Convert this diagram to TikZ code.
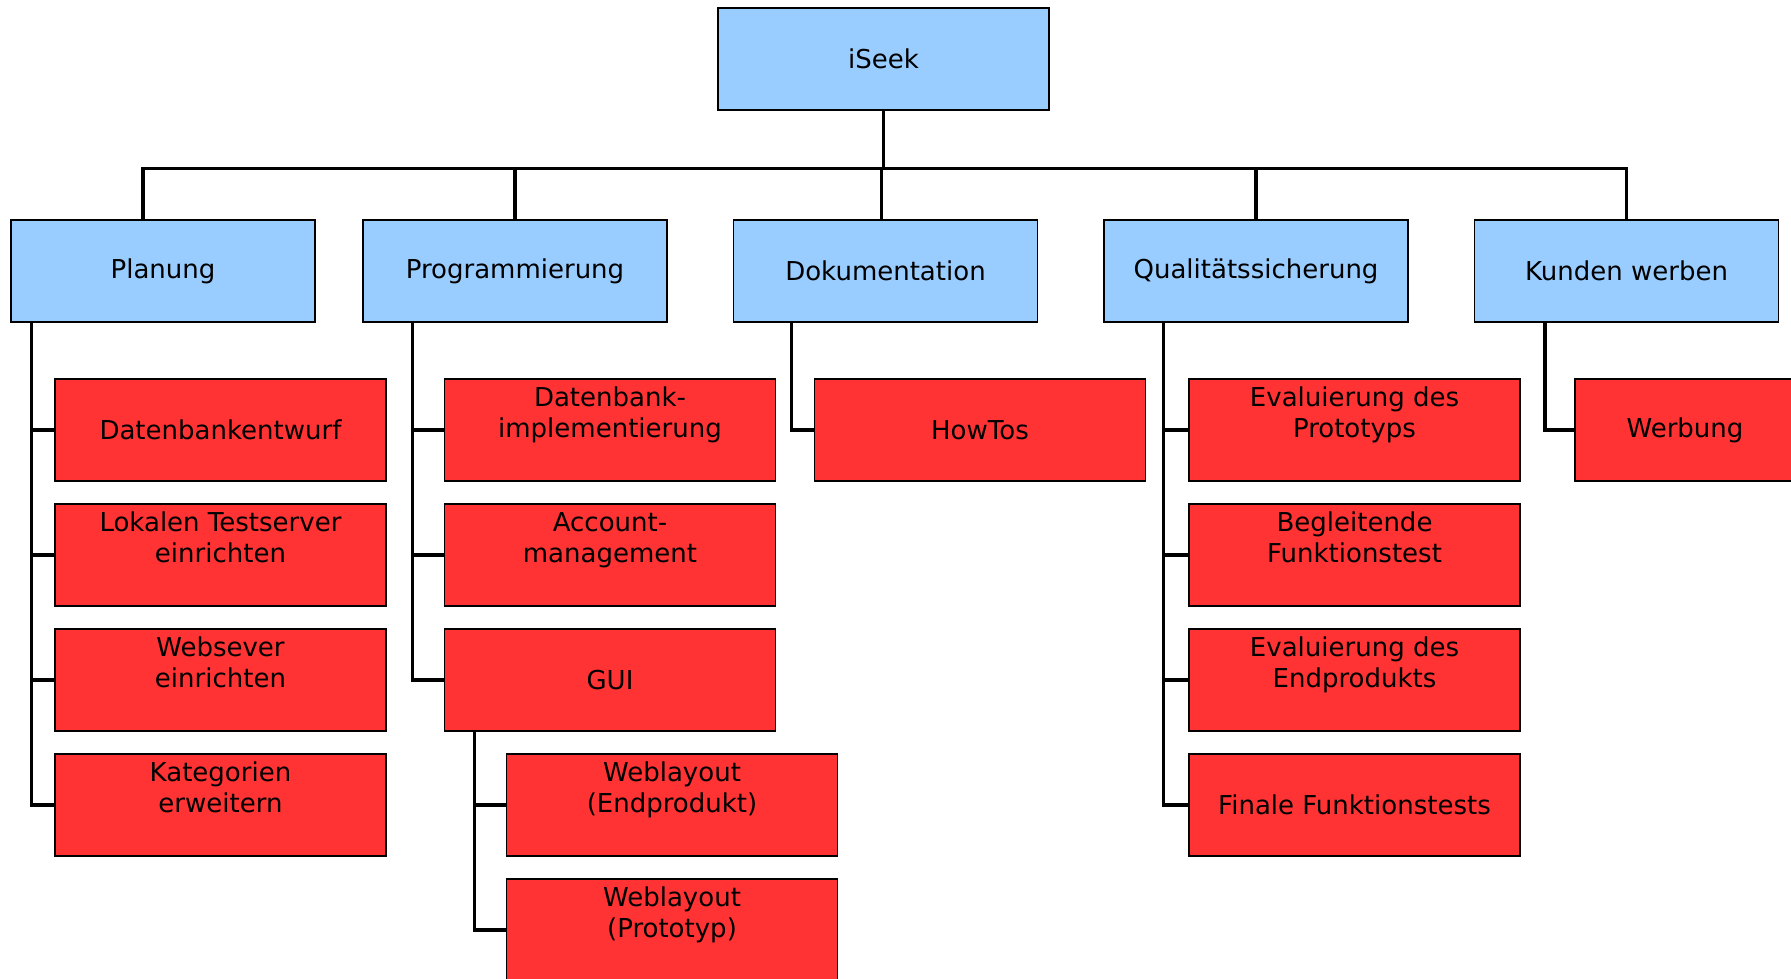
\documentclass[tikz,border=0pt]{standalone}
\usepackage{fontspec}
\setmainfont{DejaVu Sans}
\usepackage{tikz}
\usepackage{xcolor}
\definecolor{phaseblue}{HTML}{99CCFF}
\definecolor{taskred}{HTML}{FF3333}
\newcommand{\zwei}[2]{#1\\#2\\\rule[-2.7pt]{0pt}{2.7pt}}

\begin{document}
\begin{tikzpicture}[x=0.02cm,y=-0.02cm,
	box/.style={draw=black,line width=0.8pt,inner sep=0pt,align=center,minimum height=2.04cm,font=\fontsize{14.8}{17.6}\selectfont},
	phase/.style={box,fill=phaseblue,minimum width=6.08cm},
	task/.style={box,fill=taskred,minimum width=6.62cm},
	link/.style={line width=1.9pt}]
	\useasboundingbox (0,0) rectangle (1791,979);
	\clip (0,0) rectangle (1791,979);
	% Wurzel und Phasen
	\node[phase,minimum width=6.62cm] (iseek) at (883.5,59) {iSeek};
	\node[phase] (planung) at (163,271) {Planung};
	\node[phase] (progr) at (515,271) {Programmierung};
	\node[phase] (doku) at (885.5,271) {Dokumentation};
	\node[phase] (qs) at (1256,271) {Qualitätssicherung};
	\node[phase] (kunden) at (1626.5,271) {Kunden werben};
	% Arbeitspakete
	\node[task] (dbentwurf) at (220.5,430) {Datenbankentwurf};
	\node[task] (testserver) at (220.5,555) {\zwei{Lokalen Testserver}{einrichten}};
	\node[task] (webserver) at (220.5,680) {\zwei{Websever}{einrichten}};
	\node[task] (kategorien) at (220.5,805) {\zwei{Kategorien}{erweitern}};
	\node[task] (dbimpl) at (610,430) {\zwei{Datenbank-}{implementierung}};
	\node[task] (account) at (610,555) {\zwei{Account-}{management}};
	\node[task] (gui) at (610,680) {GUI};
	\node[task] (weblayoutE) at (672,805) {\zwei{Weblayout}{(Endprodukt)}};
	\node[task] (weblayoutP) at (672,930) {\zwei{Weblayout}{(Prototyp)}};
	\node[task] (howtos) at (980,430) {HowTos};
	\node[task] (evalproto) at (1354.5,430) {\zwei{Evaluierung des}{Prototyps}};
	\node[task] (begleit) at (1354.5,555) {\zwei{Begleitende}{Funktionstest}};
	\node[task] (evalend) at (1354.5,680) {\zwei{Evaluierung des}{Endprodukts}};
	\node[task] (finale) at (1354.5,805) {Finale Funktionstests};
	\node[task,minimum width=4.4cm] (werbung) at (1685,430) {Werbung};
	% Verbindungen
	\draw[link] (iseek.south) -- ++(0,58) coordinate (bus);
	\draw[link] ([xshift=-0.4cm]planung.north) |- (bus);
	\draw[link] (progr.north) |- (bus);
	\draw[link] ([xshift=-0.08cm]doku.north) |- (bus);
	\draw[link] (qs.north) |- (bus);
	\draw[link] (kunden.north) |- (bus);
	\foreach \t in {dbentwurf,testserver,webserver,kategorien} \draw[link] ([xshift=0.42cm]planung.south west) |- (\t.west);
	\foreach \t in {dbimpl,account,gui} \draw[link] ([xshift=1cm]progr.south west) |- (\t.west);
	\foreach \t in {weblayoutE,weblayoutP} \draw[link] ([xshift=0.62cm]gui.south west) |- (\t.west);
	\draw[link] ([xshift=1.18cm]doku.south west) |- (howtos.west);
	\foreach \t in {evalproto,begleit,evalend,finale} \draw[link] ([xshift=1.2cm]qs.south west) |- (\t.west);
	\draw[link] ([xshift=1.42cm]kunden.south west) |- (werbung.west);
\end{tikzpicture}
\end{document}
